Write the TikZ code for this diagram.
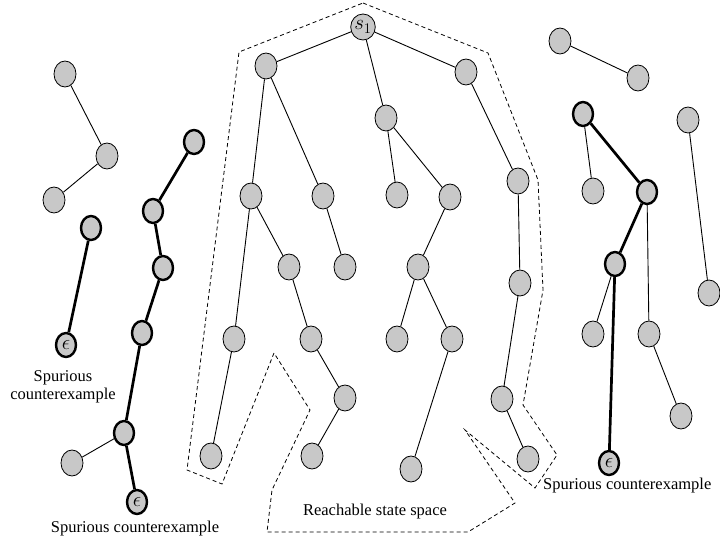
\documentclass[tikz,border=0pt]{standalone}
\usepackage{fix-cm}
\usepackage{fontspec}
\setmainfont{Liberation Serif}
\usetikzlibrary{shapes.geometric}
\definecolor{nodegray}{RGB}{200,200,200}
\tikzset{
  st/.style={ellipse, draw=black, fill=nodegray, line width=0.8pt, minimum width=22pt, minimum height=26pt, inner sep=0pt},
  stthick/.style={st, line width=2.4pt, minimum width=20pt, minimum height=24pt},
  thinedge/.style={line width=0.9pt},
  thickedge/.style={line width=2.7pt},
  region/.style={dash pattern=on 4pt off 3pt, line width=0.8pt},
  lbl/.style={font=\fontsize{16.5}{18.5}\selectfont, align=center, inner sep=0pt},
  mathlbl/.style={font=\fontsize{21}{21}\selectfont}
}
\begin{document}
\begin{tikzpicture}[x=1pt,y=-1pt]
\useasboundingbox (0,0) rectangle (720,540);
% reachable state space boundary
\draw[region] (363,3) -- (488,53) -- (538,180) -- (543,290) -- (523,405) -- (557,455) -- (535,488) -- (465,430) -- (515,503) -- (468,532) -- (267,532) -- (272,490) -- (310,410) -- (274,353) -- (222,484) -- (187,470) -- (239,52) -- cycle;
% central tree
\node[st, mathlbl] (s1) at (363,27) {$s_1$};
\node[st] (A) at (266,66) {};
\node[st] (B) at (466,72) {};
\node[st] (C) at (386,118) {};
\node[st] (D) at (251,196) {};
\node[st] (E) at (323,196) {};
\node[st] (F) at (397,195) {};
\node[st] (G) at (450,197) {};
\node[st] (H) at (518,181) {};
\node[st] (I) at (289,267) {};
\node[st] (L) at (345,267) {};
\node[st] (P) at (418,267) {};
\node[st] (T) at (520,283) {};
\node[st] (J) at (234,339) {};
\node[st] (M) at (311,339) {};
\node[st] (Q) at (397,339) {};
\node[st] (R) at (452,339) {};
\node[st] (N) at (345,398) {};
\node[st] (U) at (502,399) {};
\node[st] (K) at (211,456) {};
\node[st] (O) at (312,456) {};
\node[st] (S) at (411,469) {};
\node[st] (V) at (528,459) {};
\foreach \a/\b in {s1/A,s1/C,s1/B,A/D,A/E,C/F,C/G,B/H,D/I,D/J,E/L,G/P,H/T,J/K,I/M,M/N,N/O,P/Q,P/R,R/S,T/U,U/V}
  \draw[thinedge] (\a) -- (\b);
% left side
\node[st] (n1) at (65,74) {};
\node[st] (n2) at (107,156) {};
\node[st] (n3) at (54,200) {};
\draw[thinedge] (n1) -- (n2);
\draw[thinedge] (n2) -- (n3);
\node[stthick] (k1) at (91,228) {};
\node[stthick, mathlbl] (e1) at (66,345) {$\epsilon$};
\draw[thickedge] (k1) -- (e1);
\node[lbl] (lab1) at (63,387) {Spurious\\counterexample};
\node[stthick] (c1) at (194,142) {};
\node[stthick] (c2) at (153,211) {};
\node[stthick] (c3) at (163,268) {};
\node[stthick] (c4) at (142,333) {};
\node[stthick] (c5) at (124,433) {};
\node[stthick, mathlbl] (e2) at (137,502) {$\epsilon$};
\node[st] (x1) at (72,463) {};
\draw[thickedge] (c1) -- (c2) -- (c3) -- (c4) -- (c5) -- (e2);
\draw[thinedge] (c5) -- (x1);
\node[lbl] (lab2) at (135,529) {Spurious counterexample};
% right side
\node[st] (r1) at (560,41) {};
\node[st] (r2) at (638,78) {};
\draw[thinedge] (r1) -- (r2);
\node[stthick] (t1) at (583,114) {};
\node[stthick] (t2) at (647,192) {};
\node[stthick] (t3) at (615,264) {};
\node[stthick, mathlbl] (e3) at (609,463) {$\epsilon$};
\draw[thickedge] (t1) -- (t2) -- (t3) -- (e3);
\node[st] (y1) at (593,191) {};
\node[st] (y2) at (649,334) {};
\node[st] (y3) at (681,416) {};
\node[st] (y4) at (593,334) {};
\draw[thinedge] (t1) -- (y1);
\draw[thinedge] (t2) -- (y2);
\draw[thinedge] (y2) -- (y3);
\draw[thinedge] (t3) -- (y4);
\node[st] (z1) at (688,120) {};
\node[st] (z2) at (709,293) {};
\draw[thinedge] (z1) -- (z2);
\node[lbl, anchor=west] (lab3) at (543,486) {Spurious counterexample};
% reachable label
\node[lbl] (lab4) at (375,512) {Reachable state space};
\end{tikzpicture}
\end{document}
